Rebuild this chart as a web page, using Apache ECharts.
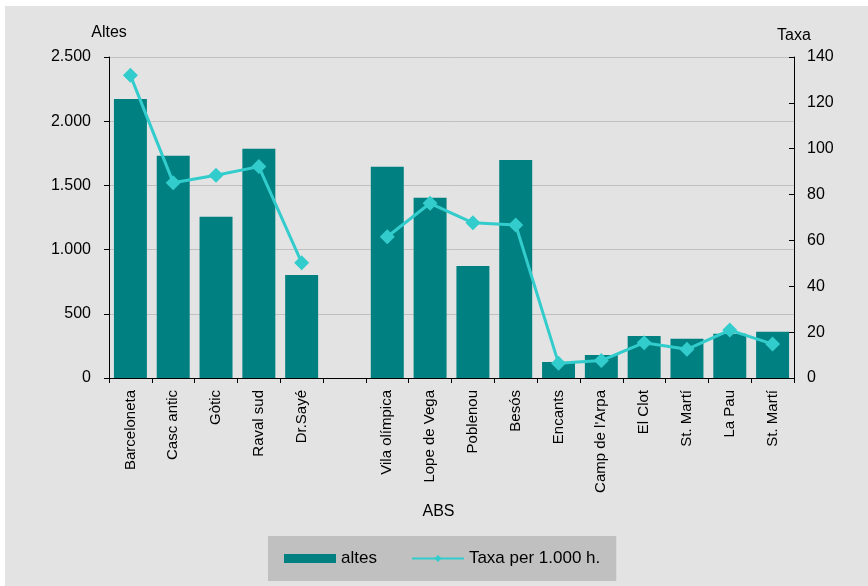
<!DOCTYPE html>
<html>
<head>
<meta charset="utf-8">
<script src="https://cdn.jsdelivr.net/npm/echarts@6/dist/echarts.min.js"></script>
<style>
html,body{margin:0;padding:0;background:#ffffff;}
#c{position:absolute;left:5px;top:6px;width:863px;height:580px;background:#E3E3E3;}
</style>
</head>
<body>
<div id="c"></div>
<script>
var categories = ['Barceloneta','Casc antic','Gòtic','Raval sud','Dr.Sayé','','Vila olímpica','Lope de Vega','Poblenou','Besós','Encants',"Camp de l'Arpa",'El Clot','St. Martí','La Pau','St. Martí'];
var altes = [2172, 1730, 1255, 1785, 803, null, 1645, 1403, 873, 1698, 125, 180, 328, 305, 345, 360];
var taxa = [132, 85.2, 88.4, 92.2, 50.3, null, 61.6, 76.2, 67.7, 66.7, 6.4, 7.6, 15.4, 12.5, 20.9, 14.8];
var leftTicks = [0, 500, 1000, 1500, 2000, 2500];
var rightTicks = [0, 20, 40, 60, 80, 100, 120, 140];

var FONT = "'Liberation Sans', Arial, sans-serif";
function fmt(v){ return String(v).replace(/\B(?=(\d{3})+(?!\d))/g, '.'); }

var chart = echarts.init(document.getElementById('c'), null, {renderer:'canvas'});
chart.setOption({
  backgroundColor: '#E3E3E3',
  animation: false,
  textStyle: {fontFamily: FONT, color: '#000'},
  grid: {left: 104, top: 51, width: 685, height: 321, containLabel: false},
  legend: {
    left: 263, top: 530,
    padding: [14, 16, 14, 16],
    backgroundColor: '#C0C0C0',
    itemGap: 34,
    itemWidth: 52, itemHeight: 9,
    textStyle: {fontFamily: FONT, fontSize: 17, color: '#000'},
    data: [
      {name: 'altes', icon: 'rect'},
      {name: 'Taxa per 1.000 h.'}
    ]
  },
  xAxis: {
    type: 'category',
    data: categories,
    boundaryGap: true,
    name: 'ABS',
    nameLocation: 'middle',
    nameGap: 126,
    nameTextStyle: {fontFamily: FONT, fontSize: 16, color: '#000', padding: [0, 26, 0, 0]},
    axisLine: {lineStyle: {color: '#000', width: 1}},
    axisTick: {show: true, interval: 0, length: 5, lineStyle: {color: '#000'}},
    axisLabel: {interval: 0, rotate: 90, fontSize: 15, color: '#000', fontFamily: FONT, margin: 12}
  },
  yAxis: [
    {
      type: 'value', position: 'left',
      min: leftTicks[0], max: leftTicks[leftTicks.length-1], interval: leftTicks[1]-leftTicks[0],
      name: 'Altes', nameLocation: 'end', nameGap: 16,
      nameTextStyle: {fontFamily: FONT, fontSize: 16, color: '#000'},
      axisLine: {show: true, lineStyle: {color: '#000'}},
      axisTick: {show: true, length: 5, lineStyle: {color: '#000'}},
      axisLabel: {fontSize: 16, color: '#000', fontFamily: FONT, margin: 18, formatter: fmt},
      splitLine: {show: true, lineStyle: {color: '#C0C0C0', width: 1}}
    },
    {
      type: 'value', position: 'right',
      min: rightTicks[0], max: rightTicks[rightTicks.length-1], interval: rightTicks[1]-rightTicks[0],
      name: 'Taxa', nameLocation: 'end', nameGap: 13,
      nameTextStyle: {fontFamily: FONT, fontSize: 16, color: '#000'},
      axisLine: {show: true, lineStyle: {color: '#000'}},
      axisTick: {show: true, inside: true, length: 5, lineStyle: {color: '#000'}},
      axisLabel: {fontSize: 16, color: '#000', fontFamily: FONT, margin: 13},
      splitLine: {show: false}
    }
  ],
  series: [
    {
      name: 'altes', type: 'bar', yAxisIndex: 0,
      data: altes,
      barCategoryGap: '23%',
      itemStyle: {color: '#008080'}
    },
    {
      name: 'Taxa per 1.000 h.', type: 'line', yAxisIndex: 1,
      data: taxa,
      connectNulls: false,
      symbol: 'diamond', symbolSize: 15,
      lineStyle: {color: '#33CCCC', width: 3},
      itemStyle: {color: '#33CCCC'}
    }
  ]
});
</script>
</body>
</html>
